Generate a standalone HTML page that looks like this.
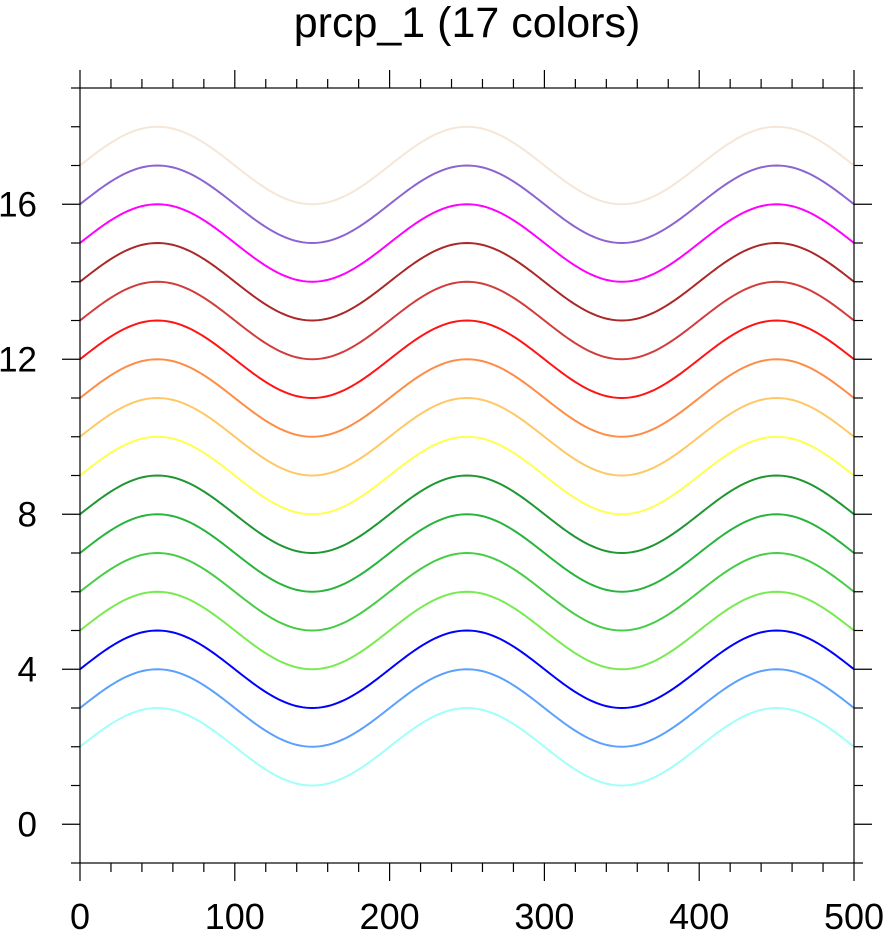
<!DOCTYPE html>
<html><head><meta charset="utf-8"><style>
html,body{margin:0;padding:0;background:#fff;}
svg{display:block;font-family:"Liberation Sans",sans-serif;}
</style></head><body>
<svg id="chart" width="884" height="935" viewBox="0 0 884 935" xmlns="http://www.w3.org/2000/svg">
<text x="467" y="37" font-size="43" text-anchor="middle">prcp_1 (17 colors)</text>
<g id="marks"></g>
<g id="axes"></g>
</svg>
<script>
const seriesOffsets = [2,3,4,5,6,7,8,9,10,11,12,13,14,15,16,17];
const seriesColors = ["#a0fffa","#5aa0ff","#0000ff","#78eb50","#46cd46","#28b43c","#1e9632","#ffff50","#ffc864","#ff8c46","#ff1414","#d23c3c","#aa2828","#ff00ff","#8c64d2","#f5e6d7"];
const xTicks = [0,100,200,300,400,500];
const yTicks = [0,4,8,12,16];
const amplitude = 1;
const period = 200;

const X0=80,X1=854,Y0=863,Y1=88,xmin=0,xmax=500,ymin=-1,ymax=19;
const sx=v=>X0+(v-xmin)/(xmax-xmin)*(X1-X0);
const sy=v=>Y0-(v-ymin)/(ymax-ymin)*(Y0-Y1);
const NS="http://www.w3.org/2000/svg";
const marks=document.getElementById('marks'), axes=document.getElementById('axes');
function mk(tag,attrs,parent){const e=document.createElementNS(NS,tag);for(const k in attrs)e.setAttribute(k,attrs[k]);parent.appendChild(e);return e;}

seriesOffsets.forEach((off,i)=>{
  let d="";
  for(let x=0;x<=500;x+=2){const y=off+amplitude*Math.sin(2*Math.PI*x/period);d+=(x?"L":"M")+sx(x).toFixed(2)+","+sy(y).toFixed(2);}
  const p=mk('path',{d:d,fill:"none",stroke:seriesColors[i],"stroke-width":2},marks);
  
  
});

const frame=mk('rect',{x:X0,y:Y1,width:X1-X0,height:Y0-Y1,fill:"none",stroke:"#000","stroke-width":1.2},axes);



for(let v=0;v<=500;v+=20){
  const major=v%100===0,L=major?18:9,x=sx(v);
  mk('line',{x1:x,x2:x,y1:Y0,y2:Y0+L,stroke:"#000","stroke-width":1.2},axes);
  mk('line',{x1:x,x2:x,y1:Y1,y2:Y1-L,stroke:"#000","stroke-width":1.2},axes);
}
for(let v=-1;v<=19;v+=1){
  const major=v%4===0,L=major?18:9,y=sy(v);
  mk('line',{x1:X0,x2:X0-L,y1:y,y2:y,stroke:"#000","stroke-width":1.2},axes);
  mk('line',{x1:X1,x2:X1+L,y1:y,y2:y,stroke:"#000","stroke-width":1.2},axes);
}
xTicks.forEach(v=>{
  const t=mk('text',{x:sx(v),y:929,"font-size":36,"text-anchor":"middle"},axes);
  t.textContent=v;
  
  
});
yTicks.forEach(v=>{
  const t=mk('text',{x:37,y:sy(v)+12,"font-size":35,"text-anchor":"end"},axes);
  t.textContent=v;
  
  
});
</script>
</body></html>
